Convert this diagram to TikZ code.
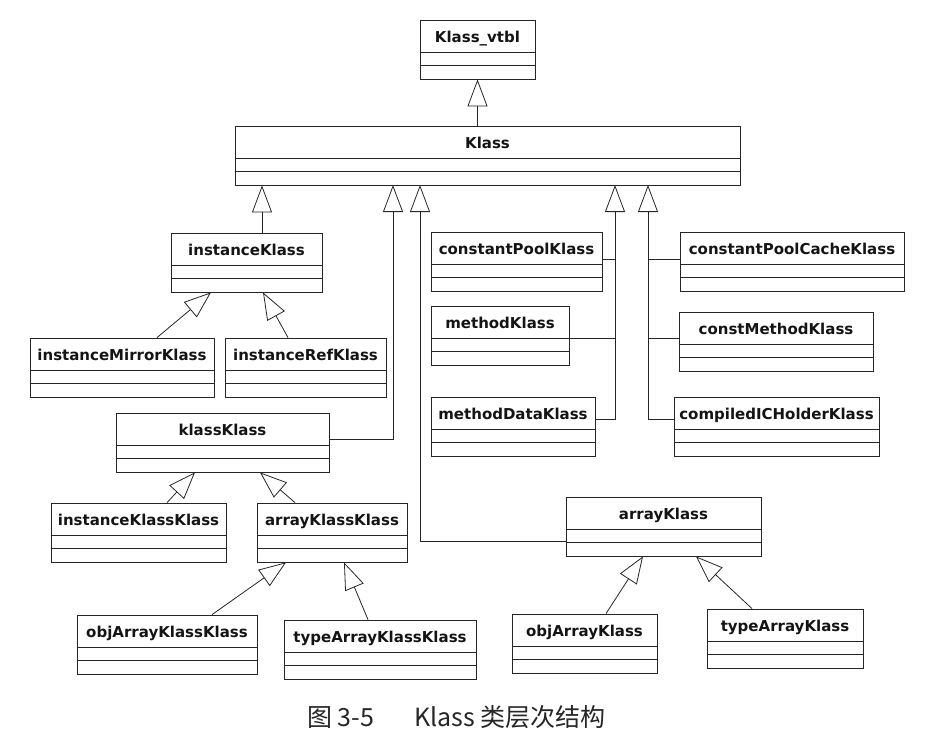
\documentclass[tikz,border=0pt]{standalone}
\usepackage{fontspec}
\setmainfont{DejaVu Sans}
\newfontfamily\cjk{Noto Sans CJK SC}
\usetikzlibrary{arrows.meta}
\tikzset{
  cls/.style={draw=black!85, line width=0.8pt, rectangle, inner sep=0pt, fill=white},
  clstext/.style={font=\fontsize{15}{17}\selectfont\bfseries, inner sep=0pt, text=black!92, anchor=base},
  sepline/.style={draw=black!85, line width=0.8pt},
  inh/.style={draw=black!85, line width=0.8pt, -{Triangle[open, length=27pt, width=20pt, line width=0.8pt]}},
  conn/.style={draw=black!85, line width=0.8pt},
  captext/.style={font=\cjk\fontsize{25}{28}\selectfont, inner sep=0pt, anchor=base west, text=black!85}
}
\newcommand\umlcls[6]{%
  \node[cls, minimum width={(#4-#2)*1pt}, minimum height={(#5-#3)*1pt}] (#1) at ({(#2+#4)/2},{(#3+#5)/2}) {};
  \node[clstext] (#1t) at ({(#2+#4)/2},{#3+22}) {#6};
  \draw[sepline] ([yshift=-33pt]#1.north west) -- ([yshift=-33pt]#1.north east);
  \draw[sepline] ([yshift=-46pt]#1.north west) -- ([yshift=-46pt]#1.north east);
}
\begin{document}
\begin{tikzpicture}[x=1pt, y=-1pt]
\useasboundingbox (0,0) rectangle (948,747);
% classes
\umlcls{vtbl}{420}{20}{535}{79}{Klass\_vtbl}
\umlcls{Klass}{235}{126}{740}{185}{Klass}
\umlcls{iK}{171}{233}{322}{292}{instanceKlass}
\umlcls{cPK}{431}{232}{602}{291}{constantPoolKlass}
\umlcls{cPCK}{680}{232}{904}{291}{constantPoolCacheKlass}
\umlcls{iMK}{30}{338}{214}{397}{instanceMirrorKlass}
\umlcls{iRK}{225}{338}{386}{397}{instanceRefKlass}
\umlcls{mK}{431}{306}{569}{365}{methodKlass}
\umlcls{cMK}{679}{312}{873}{371}{constMethodKlass}
\umlcls{mDK}{431}{397}{595}{456}{methodDataKlass}
\umlcls{cICHK}{674}{397}{879}{456}{compiledICHolderKlass}
\umlcls{kK}{116}{413}{329}{472}{klassKlass}
\umlcls{iKK}{51}{503}{226}{562}{instanceKlassKlass}
\umlcls{aKK}{257}{503}{407}{562}{arrayKlassKlass}
\umlcls{aK}{566}{497}{761}{556}{arrayKlass}
\umlcls{oAKK}{77}{615}{257}{674}{objArrayKlassKlass}
\umlcls{tAKK}{284}{620}{476}{679}{typeArrayKlassKlass}
\umlcls{oAK}{512}{614}{657}{673}{objArrayKlass}
\umlcls{tAK}{707}{609}{863}{668}{typeArrayKlass}
% connectors
\draw[inh] (Klass.north -| vtbl.south) -- (vtbl.south);
\draw[inh] ([xshift=15.5pt]iK.north) -- ([xshift=15.5pt]iK.north |- Klass.south);
\coordinate (kaTop) at (393,185);
\draw[inh] ([yshift=3pt]kK.east) -| (kaTop);
\coordinate (arTop) at (420,185);
\draw[inh] ([yshift=-15pt]aK.west) -| (arTop);
\coordinate (lTop) at (615,185);
\draw[inh] ([yshift=7pt]mDK.east) -| (lTop);
\draw[conn] ([yshift=2.5pt]cPK.east) -- ([yshift=2.5pt]cPK.east -| lTop);
\draw[conn] ([yshift=-2.5pt]mK.east) -- ([yshift=-2.5pt]mK.east -| lTop);
\coordinate (rTop) at (648,185);
\draw[inh] ([yshift=7pt]cICHK.west) -| (rTop);
\draw[conn] ([yshift=2.5pt]cPCK.west) -- ([yshift=2.5pt]cPCK.west -| rTop);
\draw[conn] ([yshift=3.5pt]cMK.west) -- ([yshift=3.5pt]cMK.west -| rTop);
% diagonal generalizations
\draw[inh] ([xshift=35pt]iMK.north) -- ([xshift=-35.5pt]iK.south);
\draw[inh] ([xshift=-17.5pt]iRK.north) -- ([xshift=16.5pt]iK.south);
\draw[inh] ([xshift=28.5pt]iKK.north) -- ([xshift=-27.5pt]kK.south);
\draw[inh] ([xshift=-37pt]aKK.north) -- ([xshift=37.5pt]kK.south);
\draw[inh] ([xshift=45pt]oAKK.north) -- ([xshift=-46pt]aKK.south);
\draw[inh] ([xshift=-12pt]tAKK.north) -- ([xshift=12pt]aKK.south);
\draw[inh] ([xshift=21.5pt]oAK.north) -- ([xshift=-20.5pt]aK.south);
\draw[inh] ([xshift=-33pt]tAK.north) -- ([xshift=32.5pt]aK.south);
% caption
\node[captext] (cap1) at (307,726) {图 3-5};
\node[captext] (cap2) at (414,726) {Klass 类层次结构};
\end{tikzpicture}
\end{document}
